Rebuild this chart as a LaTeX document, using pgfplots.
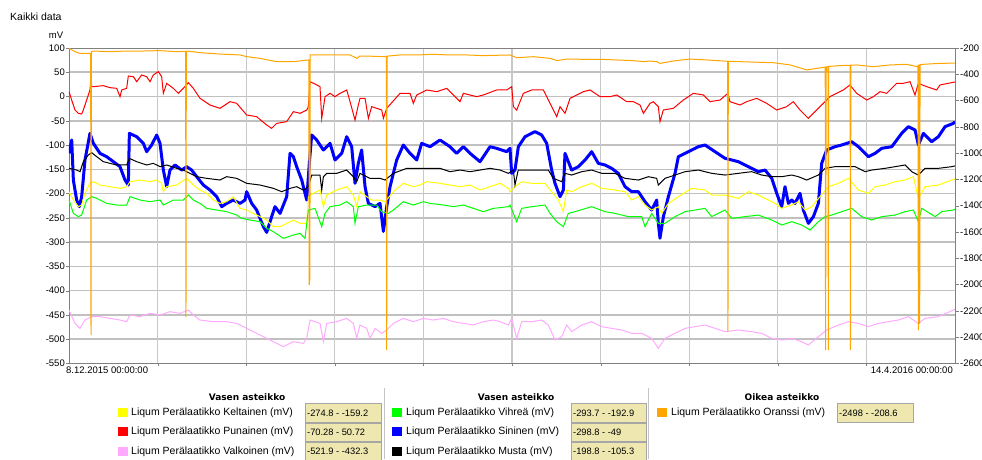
\documentclass[border=0pt]{standalone}
\usepackage{fontspec}
\setmainfont{Liberation Sans}
\newfontfamily\hdfont{DejaVu Sans}
\usepackage{pgfplots}
\pgfplotsset{compat=1.18}
\definecolor{cyel}{RGB}{255,255,0}
\definecolor{cred}{RGB}{255,0,0}
\definecolor{cpink}{RGB}{255,170,255}
\definecolor{cgreen}{RGB}{0,255,0}
\definecolor{cblue}{RGB}{0,0,255}
\definecolor{corange}{RGB}{255,165,0}
\definecolor{boxfill}{RGB}{238,232,176}
\definecolor{framegray}{RGB}{128,128,128}
\definecolor{gridgray}{RGB}{200,200,200}
\definecolor{hgridgray}{RGB}{192,192,192}
\begin{document}
\begin{tikzpicture}[x=1pt,y=1pt,font=\fontsize{10.5}{12}\selectfont]
% horizontal grid (every 50 mV on the left scale, 315.4pt / 13 steps)
\foreach \k in {1,...,12} {
  \draw[hgridgray, line width=1.6pt] (0,{\k*315.4/13}) -- (886,{\k*315.4/13});
}
\begin{axis}[
  at={(0,0)}, anchor=south west,
  scale only axis, width=886pt, height=315.4pt,
  xmin=0, xmax=128, ymin=-550, ymax=100,
  xtick={12.8,25.6,38.4,51.2,64,76.8,89.6,102.4,115.2},
  xticklabels={},
  ytick={-550,-500,-450,-400,-350,-300,-250,-200,-150,-100,-50,0,50,100},
  xtick pos=bottom, ytick pos=left,
  tick align=outside, major tick length=3pt,
  xmajorgrids=true,
  major grid style={gridgray, line width=1.1pt},
  axis line style={framegray},
  tick style={framegray},
  /pgf/number format/assume math mode=true,
  yticklabel style={font=\fontsize{9.5}{11}\selectfont, inner sep=1pt},
]
% Sininen
\addplot[cblue, line width=3pt, line join=round] coordinates {
(0,-117) (0.39,-89.6) (0.63,-172.1) (1.11,-213.3) (1.49,-227) (1.83,-206.4) (2.31,-130.8) (3.03,-75.9) (3.52,-96.5) (4.48,-117.1) (5.44,-124) (6.41,-134.3) (7.37,-144.6) (8.09,-172.1) (8.57,-182.4) (8.72,-75.9) (9.78,-82.8) (10.74,-96.5) (11.22,-113.7) (11.94,-99.9) (12.67,-79.3) (13.15,-96.5) (13.63,-151.5) (14.11,-185.8) (14.59,-151.5) (15.32,-141.1) (16.28,-151.5) (17,-144.6) (17.72,-151.5) (18.45,-165.2) (19.41,-182.4) (20.37,-192.7) (21.34,-206.4) (22.06,-227) (22.78,-220.2) (23.74,-213.3) (24.71,-220.2) (25.43,-213.3) (25.67,-196.1) (26.39,-220.2) (27.11,-233.9) (28.08,-268.2) (28.56,-280) (29.28,-247.6) (29.76,-227) (30.49,-240.8) (31.45,-206.4) (31.93,-117.1) (32.41,-124) (32.89,-144.6) (33.62,-172.1) (34.34,-213.3) (34.72,-137.7) (35.06,-79.3) (35.78,-89.6) (36.75,-110.2) (37.71,-96.5) (38.43,-130.8) (39.4,-117.1) (40.12,-82.8) (40.84,-103.4) (41.32,-178.9) (41.8,-137.7) (42.28,-110.2) (42.77,-185.8) (43.25,-220.2) (44.21,-227) (44.93,-220.2) (45.42,-278) (45.9,-227) (46.38,-185.8) (47.34,-130.8) (48.3,-99.9) (49.27,-117.1) (50.23,-130.8) (50.95,-96.5) (52.16,-103.4) (53.6,-89.6) (55.05,-103.4) (56.01,-117.1) (56.97,-103.4) (57.94,-117.1) (59.38,-134.3) (60.83,-103.4) (61.79,-106.8) (63.23,-113.7) (63.71,-106.8) (63.95,-158.3) (64.43,-151.5) (64.92,-103.4) (65.88,-82.8) (67.32,-72.4) (68.29,-79.3) (69.01,-96.5) (69.73,-151.5) (70.21,-178.9) (70.94,-206.4) (71.42,-192.7) (71.66,-117.1) (72.62,-151.5) (73.59,-144.6) (74.55,-130.8) (75.51,-113.7) (76.47,-137.7) (77.44,-141.1) (78.4,-148) (79.36,-158.3) (80.33,-185.8) (81.29,-196.1) (82.25,-196.1) (83.22,-216.7) (84.18,-233.9) (84.9,-213.3) (85.14,-261.4) (85.38,-292) (85.87,-247.6) (86.59,-206.4) (87.55,-158.3) (88.03,-124) (89,-117.1) (89.96,-110.2) (90.92,-103.4) (91.89,-99.9) (93.33,-113.7) (94.78,-127.4) (95.74,-130.8) (96.7,-134.3) (98.15,-144.6) (99.59,-154.9) (100.56,-151.5) (101.52,-168.6) (102.24,-199.5) (102.96,-227) (103.44,-185.8) (103.93,-220.2) (104.41,-213.3) (104.89,-220.2) (105.61,-199.5) (106.09,-233.9) (106.82,-261.4) (107.54,-247.6) (108.26,-220.2) (108.74,-137.7) (109.46,-110.2) (110.67,-103.4) (111.63,-99.9) (113.08,-93.1) (114.04,-103.4) (115.48,-124) (116.45,-117.1) (117.41,-106.8) (118.86,-103.4) (120.3,-75.9) (121.26,-62.1) (122.23,-69) (122.71,-99.9) (123.43,-75.9) (124.63,-93.1) (125.6,-82.8) (126.56,-62.1) (127.76,-55.3) (128,-52)
};
% Keltainen
\addplot[cyel, line width=1pt] coordinates {
(0,-196.1) (0.63,-213.3) (1.35,-227) (1.83,-223.6) (2.31,-199.5) (3.03,-178.9) (3.52,-175.5) (4.48,-182.4) (5.92,-185.8) (7.37,-189.2) (8.33,-185.8) (8.81,-175.5) (10.26,-172.1) (11.7,-175.5) (12.67,-172.1) (13.39,-178.9) (13.63,-196.1) (14.11,-185.8) (15.56,-182.4) (17,-168.6) (17.96,-182.4) (18.93,-192.7) (19.89,-199.5) (20.85,-213.3) (21.82,-220.2) (22.78,-216.7) (23.74,-206.4) (24.71,-230.5) (25.67,-233.9) (26.63,-240.8) (27.6,-247.6) (28.56,-254.5) (29.52,-268.2) (30.49,-268.2) (31.45,-261.4) (32.41,-254.5) (33.38,-261.4) (34.34,-261.4) (34.58,-206.4) (35.3,-199.5) (36.26,-192.7) (36.75,-227) (37.23,-203) (38.67,-192.7) (40.12,-185.8) (41.08,-203) (41.56,-227) (42.04,-196.1) (43.01,-206.4) (43.73,-213.3) (44.93,-213.3) (45.66,-216.7) (46.86,-196.1) (48.3,-178.9) (49.75,-185.8) (50.71,-182.4) (51.68,-175.5) (53.6,-178.9) (55.05,-182.4) (56.49,-185.8) (57.94,-182.4) (59.38,-192.7) (60.83,-185.8) (62.27,-178.9) (63.48,-189.2) (63.71,-196.1) (64.43,-185.8) (65.4,-175.5) (66.84,-178.9) (68.77,-178.9) (69.73,-196.1) (70.7,-213.3) (71.42,-237.3) (71.9,-192.7) (72.62,-196.1) (74.07,-185.8) (75.51,-178.9) (76.96,-189.2) (78.88,-192.7) (80.33,-196.1) (81.29,-213.3) (82.25,-206.4) (83.22,-223.6) (84.18,-233.9) (85.14,-227) (85.63,-240.8) (86.59,-220.2) (88.03,-206.4) (89.96,-189.2) (91.89,-192.7) (92.85,-203) (94.78,-203) (96.7,-209.8) (98.15,-196.1) (99.59,-203) (101.04,-213.3) (102,-220.2) (102.96,-230.5) (104.41,-223.6) (105.37,-216.7) (106.33,-233.9) (107.3,-227) (108.5,-206.4) (109.71,-185.8) (111.15,-178.9) (112.6,-168.6) (114.04,-192.7) (115.48,-199.5) (116.45,-185.8) (117.89,-182.4) (119.34,-175.5) (120.78,-172.1) (121.99,-165.2) (122.71,-209.8) (123.67,-185.8) (125.6,-182.4) (127.52,-172.1) (128,-170)
};
% Punainen
\addplot[cred, line width=1pt] coordinates {
(0,10) (0.39,-7.2) (0.87,-27.8) (1.35,-34.6) (1.83,-36) (2.07,-27.8) (2.55,-7.2) (3.03,13.5) (3.18,40) (3.28,20.3) (3.52,20.3) (4.96,22.4) (5.92,18.3) (6.89,16.9) (7.37,-0.3) (7.61,13.5) (8.33,16.9) (8.57,42.3) (9.3,40.9) (9.78,30.6) (10.5,44.4) (11.22,40.9) (11.7,30.6) (12.18,44.4) (12.91,51.2) (13.39,40.9) (13.63,6.6) (14.11,27.2) (15.07,16.9) (15.8,6.6) (16.52,16.9) (17.24,28.6) (17.96,16.9) (18.93,-3.7) (20.37,-17.5) (21.82,-24.3) (23.26,-10.6) (24.22,-14) (25.67,-38.1) (27.11,-41.5) (28.56,-58.7) (29.28,-65.6) (30,-55.3) (31.45,-51.8) (32.41,-31.2) (33.38,-34.6) (34.34,-27.8) (34.58,-20.9) (34.82,30.6) (35.54,25.8) (36.26,20.3) (36.51,-45) (36.99,-0.3) (37.71,6.6) (38.43,-0.3) (39.15,6.6) (40.12,13.5) (40.6,-10.6) (41.32,-48.4) (41.8,-17.5) (42.04,-3.7) (42.77,-3.7) (43.25,-45) (43.73,-20.9) (45.18,-27.8) (45.42,-45) (45.9,-24.3) (47.82,6.6) (49.27,6.6) (49.75,-14) (50.23,3.2) (51.68,13.5) (53.12,10) (54.57,16.9) (55.05,10) (56.49,-10.6) (56.97,6.6) (58.9,-0.3) (59.86,3.2) (61.79,13.5) (63.24,13.5) (63.96,20.3) (64.2,-20.9) (64.68,-27.8) (65.64,6.6) (66.85,13.5) (68.53,13.5) (69.5,-14) (70.46,-41.5) (70.94,-20.9) (71.66,-34.6) (72.39,-3.7) (74.31,10) (75.28,13.5) (76.72,-0.3) (78.16,-0.3) (79.13,3.2) (80.57,-10.6) (81.54,-10.6) (82.5,-17.5) (82.98,-34.6) (83.94,-14) (84.42,-10.6) (85.14,-20.9) (85.38,-51.8) (85.86,-27.8) (87.31,-24.3) (88.75,-7.2) (90.2,6.6) (91.64,3.2) (92.6,-10.6) (94.05,-7.2) (95.2,6.6) (95.49,-10.6) (96.94,-17.5) (97.9,-10.6) (99.35,-3.7) (100.79,-14) (102.24,-27.8) (103.68,-20.9) (104.64,-10.6) (105.61,-27.8) (106.81,-45) (108.01,-27.8) (108.98,-14) (109.94,-0.3) (110.9,6.6) (111.87,13.5) (112.83,23.8) (113.79,6.6) (115.24,-7.2) (116.2,-0.3) (117.17,10) (118.13,6.6) (119.57,27.2) (120.53,27.2) (121.5,30.6) (122.22,3.2) (122.7,27.2) (123.91,20.3) (125.35,13.5) (125.83,23.8) (128,30)
};
% Valkoinen
\addplot[cpink, line width=1pt] coordinates {
(0,-440) (0.87,-467.5) (1.59,-477.8) (2.31,-460.6) (3.28,-453.7) (4.48,-453.7) (5.92,-457.2) (7.37,-460.6) (8.33,-464) (8.81,-450.3) (10.26,-453.7) (11.7,-446.9) (13.15,-450.3) (14.59,-443.4) (16.04,-446.9) (17.24,-440) (17.96,-450.3) (18.93,-460.6) (20.85,-464) (22.78,-464) (24.22,-467.5) (25.67,-477.8) (27.11,-488.1) (28.56,-498.4) (30,-508.7) (30.97,-515.6) (32.41,-505.3) (33.86,-508.7) (34.34,-498.4) (34.82,-460.6) (36.26,-467.5) (36.75,-505.3) (37.23,-467.5) (38.67,-464) (40.12,-457.2) (41.08,-467.5) (41.56,-498.4) (42.04,-470.9) (43.01,-477.8) (43.49,-498.4) (44.21,-477.8) (45.17,-488.1) (45.9,-481.2) (46.86,-467.5) (48.3,-457.2) (49.75,-464) (51.19,-457.2) (52.64,-460.6) (54.08,-457.2) (55.53,-464) (56.97,-467.5) (58.42,-470.9) (59.86,-464) (61.31,-460.6) (62.27,-464) (63.48,-470.9) (63.95,-457.2) (64.68,-498.4) (65.4,-464) (66.84,-464) (68.29,-460.6) (69.25,-470.9) (70.21,-501.8) (71.18,-494.9) (71.9,-470.9) (72.62,-484.6) (74.07,-470.9) (75.51,-464) (76.96,-474.3) (78.4,-477.8) (79.85,-481.2) (81.29,-488.1) (82.74,-488.1) (84.18,-498.4) (85.14,-519) (86.11,-498.4) (87.55,-488.1) (89,-477.8) (90.44,-474.3) (91.89,-470.9) (93.33,-477.8) (94.78,-484.6) (96.7,-481.2) (98.63,-484.6) (100.07,-488.1) (101.52,-498.4) (102.96,-501.8) (104.41,-498.4) (105.85,-505.3) (106.82,-512.1) (108.26,-494.9) (109.46,-481.2) (111.15,-470.9) (112.6,-464) (114.04,-467.5) (115.48,-474.3) (116.93,-467.5) (118.37,-464) (119.82,-460.6) (121.26,-453.7) (122.71,-467.5) (123.67,-457.2) (125.6,-453.7) (127.76,-440) (128,-438)
};
% Vihrea
\addplot[cgreen, line width=1pt] coordinates {
(0,-213.3) (0.63,-240.8) (1.35,-247.6) (1.83,-244.2) (2.55,-213.3) (3.28,-206.4) (4,-209.8) (5.44,-220.2) (6.89,-223.6) (8.33,-223.6) (8.81,-206.4) (10.26,-213.3) (11.7,-216.7) (13.15,-213.3) (13.63,-223.6) (15.07,-213.3) (16.52,-213.3) (17.24,-203) (17.96,-213.3) (18.93,-220.2) (19.89,-230.5) (21.34,-233.9) (22.78,-237.3) (24.22,-244.2) (24.95,-251.1) (26.15,-254.5) (27.6,-257.9) (28.56,-271.7) (29.52,-278.5) (30.97,-292.3) (32.41,-285.4) (33.38,-282) (34.1,-292.3) (34.58,-233.9) (35.54,-230.5) (36.51,-268.2) (36.99,-240.8) (37.71,-227) (39.15,-223.6) (40.12,-216.7) (41.08,-227) (41.32,-261.4) (41.8,-227) (43.01,-223.6) (44.45,-223.6) (45.17,-237.3) (46.14,-240.8) (46.86,-233.9) (48.3,-216.7) (49.75,-223.6) (51.19,-216.7) (52.16,-220.2) (54.08,-223.6) (55.53,-227) (56.97,-223.6) (58.42,-230.5) (59.86,-237.3) (61.31,-230.5) (63.48,-227) (63.71,-223.6) (64.68,-257.9) (65.4,-230.5) (66.84,-227) (68.77,-223.6) (69.49,-240.8) (70.45,-257.9) (71.42,-268.2) (72.14,-240.8) (73.1,-237.3) (75.51,-227) (77.44,-237.3) (78.88,-240.8) (80.81,-247.6) (82.74,-247.6) (83.22,-268.2) (84.18,-240.8) (85.14,-261.4) (86.11,-261.4) (87.55,-247.6) (89,-237.3) (90.44,-233.9) (91.89,-230.5) (92.85,-247.6) (94.78,-233.9) (95.74,-251.1) (97.67,-247.6) (99.59,-244.2) (101.52,-254.5) (102.96,-264.8) (104.41,-257.9) (105.85,-264.8) (107.06,-275.1) (108.26,-257.9) (109.22,-247.6) (110.19,-244.2) (111.63,-237.3) (113.08,-230.5) (114.52,-247.6) (115.97,-254.5) (117.41,-247.6) (119.34,-244.2) (120.78,-237.3) (121.99,-233.9) (122.71,-257.9) (123.19,-230.5) (125.12,-247.6) (126.08,-237.3) (127.76,-233.9) (128,-232)
};
% Musta
\addplot[black, line width=1pt] coordinates {
(0,-148) (1.11,-151.5) (1.59,-154.9) (2.07,-134.3) (2.79,-120.5) (3.28,-115.7) (4,-124) (4.96,-134.3) (5.92,-137.7) (6.89,-141.1) (8.33,-141.1) (8.72,-127.4) (9.78,-134.3) (11.22,-141.1) (12.18,-137.7) (13.15,-144.6) (14.11,-141.1) (15.56,-148) (16.52,-151.5) (17.48,-158.3) (18.45,-165.2) (19.89,-168.6) (21.82,-172.1) (22.78,-165.2) (24.22,-168.6) (25.67,-178.9) (27.6,-182.4) (29.52,-189.2) (30.73,-196.1) (31.93,-189.2) (32.89,-185.8) (33.86,-192.7) (34.58,-185.8) (35.06,-161.8) (36.26,-161.8) (36.51,-192.7) (36.75,-165.2) (37.23,-158.3) (38.67,-158.3) (40.12,-151.5) (41.08,-165.2) (41.56,-175.5) (42.04,-158.3) (43.49,-168.6) (44.93,-168.6) (45.66,-172.1) (46.86,-158.3) (48.79,-148) (50.71,-148) (52.16,-148) (53.6,-148) (55.05,-154.9) (56.49,-151.5) (57.94,-154.9) (59.38,-151.5) (60.83,-148) (62.27,-151.5) (63.48,-158.3) (64.2,-151.5) (64.43,-182.4) (64.9,-151.5) (65.4,-151.5) (67.32,-151.5) (69.25,-151.5) (69.97,-168.6) (71.18,-175.5) (71.66,-158.3) (72.62,-161.8) (74.07,-154.9) (75.51,-151.5) (76.96,-158.3) (78.88,-158.3) (80.33,-168.6) (82.25,-172.1) (83.7,-165.2) (84.9,-168.6) (85.14,-182.4) (86.11,-168.6) (87.55,-161.8) (89,-154.9) (90.92,-151.5) (92.85,-158.3) (94.78,-161.8) (96.7,-158.3) (98.63,-154.9) (100.07,-161.8) (101.52,-165.2) (102.96,-165.2) (104.41,-161.8) (105.37,-165.2) (106.58,-172.1) (108.26,-161.8) (109.22,-148) (110.67,-144.6) (112.11,-144.6) (113.56,-144.6) (115,-154.9) (115.97,-151.5) (117.89,-148) (119.34,-144.6) (120.78,-141.1) (121.75,-154.9) (122.71,-161.8) (123.67,-148) (125.6,-148) (127.52,-144.6) (128,-143)
};
\end{axis}
\begin{axis}[
  at={(0,0)}, anchor=south west,
  scale only axis, width=886pt, height=315.4pt,
  xmin=0, xmax=128, ymin=-2600, ymax=-200,
  axis x line=none, axis y line*=right,
  ytick={-2600,-2400,...,-200},
  tick align=outside, major tick length=4pt,
  axis line style={framegray},
  tick style={framegray},
  /pgf/number format/assume math mode=true,
  /pgf/number format/1000 sep={},
  yticklabel style={font=\fontsize{9.5}{11}\selectfont, inner sep=1pt},
]
% Oranssi
\addplot[corange, line width=1pt] coordinates {
(0,-202) (0.87,-228) (1.59,-241) (3.03,-241) (3.13,-241) (3.18,-2384) (3.23,-230) (3.5,-223) (5.9,-228) (8.3,-223) (10.7,-223) (13.1,-220) (15.6,-228) (16.85,-225) (16.9,-2245) (16.95,-225) (17,-223) (18.9,-235) (21.8,-246) (24.7,-253) (25.7,-266) (27.6,-279) (30,-304) (32.4,-304) (34.6,-291) (34.65,-291) (34.7,-2004) (34.8,-1950) (34.85,-253) (35.1,-253) (37.2,-253) (39.6,-253) (40.6,-253) (41.6,-279) (42,-261) (43,-261) (45.4,-266) (45.85,-264) (45.9,-2498) (45.95,-262) (47.8,-253) (50.2,-253) (52.6,-248) (55,-253) (57.5,-253) (59.9,-258) (63.7,-253) (64.7,-274) (67.1,-266) (69.5,-279) (70.5,-296) (71.9,-284) (74.3,-286) (76.7,-286) (79.1,-291) (81.5,-296) (83,-304) (83.9,-299) (84.9,-304) (85.4,-317) (87.3,-299) (89.7,-284) (92.1,-291) (94.5,-299) (95.15,-300) (95.2,-2359) (95.25,-301) (96.9,-304) (101.8,-312) (104.2,-329) (106.6,-367) (109,-347) (109.25,-345) (109.3,-2498) (109.4,-344) (109.65,-342) (109.7,-2498) (109.75,-340) (111.4,-334) (112.85,-331) (112.9,-2498) (112.95,-331) (113.8,-329) (116.2,-342) (118.6,-329) (121,-324) (122.5,-342) (122.65,-335) (122.7,-2346) (122.8,-330) (122.85,-330) (122.9,-2300) (122.95,-326) (123.4,-324) (125.8,-317) (128,-315)
};
\end{axis}
% titles and x labels
\node[anchor=west, inner sep=0] at (-59,346.4) {Kaikki data};
\node[inner sep=0, font=\fontsize{9.5}{11}\selectfont] at (-13,328.4) {mV};
\node[anchor=west, inner sep=0, font=\fontsize{9.5}{11}\selectfont] at (-3,-6.6) {8.12.2015 00:00:00};
\node[anchor=east, inner sep=0, font=\fontsize{9.5}{11}\selectfont] at (884,-6.6) {14.4.2016 00:00:00};
% legend
\draw[gray!45] (315,-24.6) -- (315,-96);
\draw[gray!45] (579.3,-24.6) -- (579.3,-96);
\node[font=\hdfont\fontsize{9}{11}\selectfont\bfseries] at (178,-33.6) {Vasen asteikko};
\node[font=\hdfont\fontsize{9}{11}\selectfont\bfseries] at (447,-33.6) {Vasen asteikko};
\node[font=\hdfont\fontsize{9}{11}\selectfont\bfseries] at (713,-33.6) {Oikea asteikko};
% column 1
\fill[cyel] (49,-54) rectangle (59,-45);
\fill[cred] (49,-73) rectangle (59,-64);
\fill[cpink] (49,-92.5) rectangle (59,-83.5);
\node[anchor=west, inner sep=0] at (62,-49.6) {Liqum Perälaatikko Keltainen (mV)};
\node[anchor=west, inner sep=0] at (62,-68.6) {Liqum Perälaatikko Punainen (mV)};
\node[anchor=west, inner sep=0] at (62,-88.1) {Liqum Perälaatikko Valkoinen (mV)};
\draw[gray!70, fill=boxfill] (236,-40) rectangle (312,-58.6);
\draw[gray!70, fill=boxfill] (236,-59.6) rectangle (312,-78);
\draw[gray!70, fill=boxfill] (236,-79) rectangle (312,-97.6);
\node[anchor=west, inner sep=0, font=\fontsize{9.3}{10}\selectfont] at (238,-49.4) {-274.8 - -159.2};
\node[anchor=west, inner sep=0, font=\fontsize{9.3}{10}\selectfont] at (238,-68.8) {-70.28 - 50.72};
\node[anchor=west, inner sep=0, font=\fontsize{9.3}{10}\selectfont] at (238,-88.2) {-521.9 - -432.3};
% column 2
\fill[cgreen] (323,-54) rectangle (333,-45);
\fill[cblue] (323,-73) rectangle (333,-64);
\fill[black] (323,-92.5) rectangle (333,-83.5);
\node[anchor=west, inner sep=0] at (337,-49.6) {Liqum Perälaatikko Vihreä (mV)};
\node[anchor=west, inner sep=0] at (337,-68.6) {Liqum Perälaatikko Sininen (mV)};
\node[anchor=west, inner sep=0] at (337,-88.1) {Liqum Perälaatikko Musta (mV)};
\draw[gray!70, fill=boxfill] (502,-40) rectangle (577,-58.6);
\draw[gray!70, fill=boxfill] (502,-59.6) rectangle (577,-78);
\draw[gray!70, fill=boxfill] (502,-79) rectangle (577,-97.6);
\node[anchor=west, inner sep=0, font=\fontsize{9.3}{10}\selectfont] at (504,-49.4) {-293.7 - -192.9};
\node[anchor=west, inner sep=0, font=\fontsize{9.3}{10}\selectfont] at (504,-68.8) {-298.8 - -49};
\node[anchor=west, inner sep=0, font=\fontsize{9.3}{10}\selectfont] at (504,-88.2) {-198.8 - -105.3};
% column 3
\fill[corange] (588,-54) rectangle (598,-45);
\node[anchor=west, inner sep=0] at (602,-49.6) {Liqum Perälaatikko Oranssi (mV)};
\draw[gray!70, fill=boxfill] (768,-40) rectangle (844,-58.6);
\node[anchor=west, inner sep=0, font=\fontsize{9.3}{10}\selectfont] at (770,-49.4) {-2498 - -208.6};
\pgfresetboundingbox
\path[use as bounding box] (-69,-95.6) rectangle (913,363.4);
\end{tikzpicture}
\end{document}
